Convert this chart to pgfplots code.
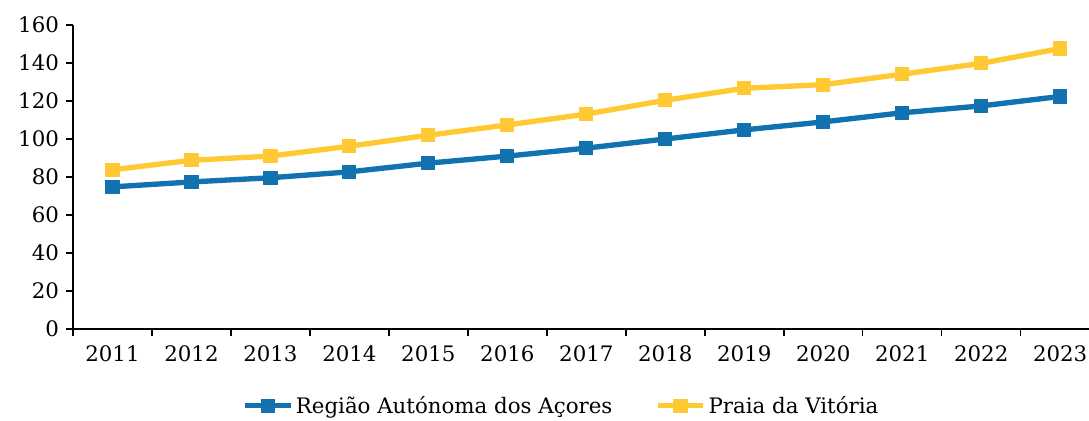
\documentclass[border=0pt]{standalone}
\usepackage{pgfplots}
\pgfplotsset{compat=1.18}
\usepackage{fontspec}
\setmainfont{DejaVu Serif}
\definecolor{cblue}{HTML}{1172AF}
\definecolor{cyellow}{HTML}{FFC933}
\pgfplotstableread{
x year acores praia
0 2011 74.8 83.8
1 2012 77.4 88.8
2 2013 79.6 91.0
3 2014 82.7 96.2
4 2015 87.3 102.0
5 2016 91.0 107.4
6 2017 95.2 113.1
7 2018 100.0 120.4
8 2019 104.8 126.7
9 2020 109.0 128.6
10 2021 113.8 134.1
11 2022 117.4 139.8
12 2023 122.4 147.6
}\data
\begin{document}
\begin{tikzpicture}[font=\fontsize{16}{19}\selectfont]
\begin{axis}[
  at={(0,0)}, anchor=south west,
  scale only axis, width=770pt, height=228pt,
  xmin=-0.5, xmax=12.5, ymin=0, ymax=160,
  axis x line=bottom, axis y line=left,
  axis line style={-, line width=1.1pt, black},
  xtick={0,...,12},
  xticklabels={2011,2012,2013,2014,2015,2016,2017,2018,2019,2020,2021,2022,2023},
  minor xtick={-0.5,0.5,...,12.5},
  major x tick style={draw=none},
  minor x tick style={line width=1.1pt, black},
  ytick={0,20,...,160},
  y tick style={line width=1.1pt, black},
  tick align=outside, major tick length=5pt, minor tick length=5pt,
  /pgf/number format/assume math mode=true,
  yticklabel style={/pgf/number format/1000 sep={}, xshift=-2pt},
  xticklabel style={yshift=-4pt},
  legend columns=2,
  legend style={draw=none, at={(0.476,-0.252)}, anchor=center,
    /tikz/every even column/.append style={column sep=30pt}},
  legend image code/.code={\draw[mark repeat=2,mark phase=2] plot coordinates {(0cm,0cm) (0.6cm,0cm) (1.2cm,0cm)};},
  clip=false,
]
\addplot[cblue, line width=4pt, mark=square*, mark size=4.9pt, mark options={line width=0.8pt, line join=round}] table[x=x, y=acores] {\data};
\addlegendentry{Região Autónoma dos Açores}
\addplot[cyellow, line width=4pt, mark=square*, mark size=4.9pt, mark options={line width=0.8pt, line join=round}] table[x=x, y=praia] {\data};
\addlegendentry{Praia da Vitória}
\end{axis}
\pgfresetboundingbox
\path (-54.75pt,-69pt) rectangle (762pt,246.75pt);
\end{tikzpicture}
\end{document}
